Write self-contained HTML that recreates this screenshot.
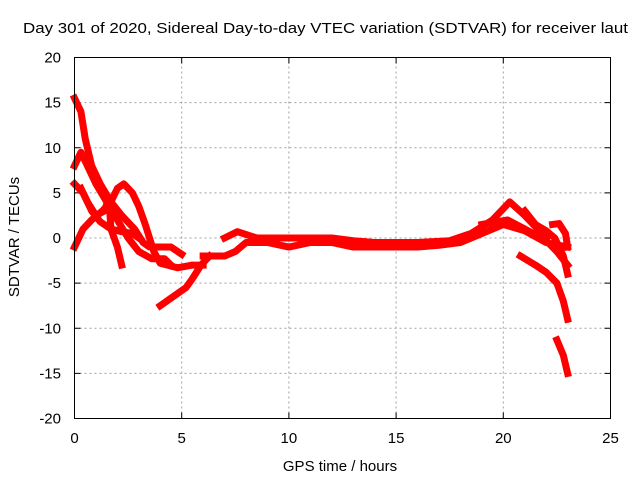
<!DOCTYPE html>
<html><head><meta charset="utf-8"><style>
html,body{margin:0;padding:0;background:#fff;}
svg{display:block;font-family:"Liberation Sans",Arial,sans-serif;}
</style></head><body>
<svg id="chart" width="640" height="480" viewBox="0 0 640 480">
<rect width="640" height="480" fill="#fff"/>
<text x="23" y="33" font-size="15" textLength="605" lengthAdjust="spacingAndGlyphs">Day 301 of 2020, Sidereal Day-to-day VTEC variation (SDTVAR) for receiver laut</text>
<text x="340" y="471" font-size="15" text-anchor="middle">GPS time / hours</text>
<text transform="translate(19,237) rotate(-90)" font-size="15" text-anchor="middle">SDTVAR / TECUs</text>
<g id="grid"></g>
<g id="ticks"></g>
<g id="series"></g>
<rect x="74.5" y="57.5" width="536" height="361" fill="none" stroke="#000" stroke-width="1"/>
</svg>
<script>
const xTicks=[0,5,10,15,20,25];
const yTicks=[-20,-15,-10,-5,0,5,10,15,20];
const trackA=[[0,15.5],[0.3,14],[0.5,11],[0.8,8],[1.2,6],[1.7,4],[2.2,2.5],[2.8,1],[3.2,-0.5],[3.5,-1],[4.5,-1],[5,-1.8]];
const trackB=[[0,8],[0.3,9.5],[0.6,8],[1,6],[1.5,4],[2,2],[2.5,0],[3,-1.5],[3.6,-2.3],[4.2,-2.3],[4.5,-3]];
const trackC=[[0,6],[0.4,5],[0.8,3],[1.2,1.8],[1.7,1],[2.2,0.7],[2.7,0.5],[3,0]];
const trackD=[[0,-1],[0.4,1],[0.8,2],[1.3,3],[1.7,4],[2,5.5],[2.3,6],[2.7,5],[3,3.5],[3.3,1.5],[3.5,0],[3.7,-1.5],[4,-2.8],[4.8,-3.3],[5.5,-3],[6,-3]];
const trackE=[[0.3,5.5],[0.6,4],[1,2.5],[1.4,3],[1.6,4.5],[1.7,1],[2,-1],[2.2,-3]];
const trackF=[[4,-7.5],[4.6,-6.5],[5.2,-5.5],[5.5,-4.5],[5.9,-3],[6.3,-2]];
const trackMid1=[[6,-2],[7,-2],[7.5,-1.5],[8,-0.5],[9,-0.5],[10,-1],[11,-0.5],[12,-0.5],[13,-1],[14,-1],[15,-1],[16,-1],[17,-0.8],[18,-0.5],[19,0.5],[20,1.5],[21,0.8],[22,-0.5],[23,-1]];
const trackMid2=[[7,0],[7.6,0.7],[8.5,0],[10,0],[12,0],[13,-0.3],[14,-0.5],[16,-0.5],[17.5,-0.3],[18.5,0.5],[19.5,2],[20.3,4],[21,2.5],[21.6,1],[22,0]];
const trackG=[[19,1.5],[20.2,2],[21,1],[22,-0.3],[22.5,-1.5],[23,-3]];
const trackH=[[21,3],[21.5,1.5],[22,0.8],[22.4,0],[22.8,-2],[23,-4]];
const trackI=[[22.3,1.5],[22.6,1.6],[22.9,0.5],[23,-1]];
const trackJ=[[20.8,-2],[21.5,-3],[22,-3.8],[22.5,-5],[22.8,-7],[23,-9]];
const trackK=[[22.5,-11.3],[22.8,-13],[23,-15]];
const tracks=[trackA,trackB,trackC,trackD,trackE,trackF,trackMid1,trackMid2,trackG,trackH,trackI,trackJ,trackK];

const X0=74.5,X1=610.5,Y0=418.5,Y1=57.5;
const sx=v=>X0+(v-0)/(25-0)*(X1-X0);
const sy=v=>Y0-(v+20)/(40)*(Y0-Y1);
const NS="http://www.w3.org/2000/svg";
const grid=document.getElementById('grid'),ticks=document.getElementById('ticks'),series=document.getElementById('series');
function mk(tag,attrs,parent){const e=document.createElementNS(NS,tag);for(const k in attrs)e.setAttribute(k,attrs[k]);parent.appendChild(e);return e;}
xTicks.forEach(t=>{
  const x=sx(t);
  if(t>0&&t<25){const g=mk('line',{x1:x,y1:Y0,x2:x,y2:Y1,stroke:'#a0a0a0','stroke-dasharray':'2,3'},grid);
  
  }
  mk('line',{x1:x,y1:Y0,x2:x,y2:Y0-6,stroke:'#000'},ticks);
  mk('line',{x1:x,y1:Y1,x2:x,y2:Y1+6,stroke:'#000'},ticks);
  const l=mk('text',{x:x,y:443,'font-size':15,'text-anchor':'middle'},ticks);l.textContent=t;
  
  
});
yTicks.forEach(t=>{
  const y=sy(t);
  if(t>-20&&t<20){const g=mk('line',{x1:X0,y1:y,x2:X1,y2:y,stroke:'#a0a0a0','stroke-dasharray':'2,3'},grid);
  
  }
  mk('line',{x1:X0,y1:y,x2:X0+6,y2:y,stroke:'#000'},ticks);
  mk('line',{x1:X1,y1:y,x2:X1-6,y2:y,stroke:'#000'},ticks);
  const l=mk('text',{x:61,y:y+5,'font-size':15,'text-anchor':'end'},ticks);l.textContent=t;
  
  
});
tracks.forEach((tr,i)=>{
  const p=mk('polyline',{points:tr.map(d=>sx(d[0])+','+sy(d[1])).join(' '),fill:'none',stroke:'#ff0000','stroke-width':7,'stroke-linejoin':'round','stroke-linecap':'square'},series);
  
  
});
</script>
</body></html>
